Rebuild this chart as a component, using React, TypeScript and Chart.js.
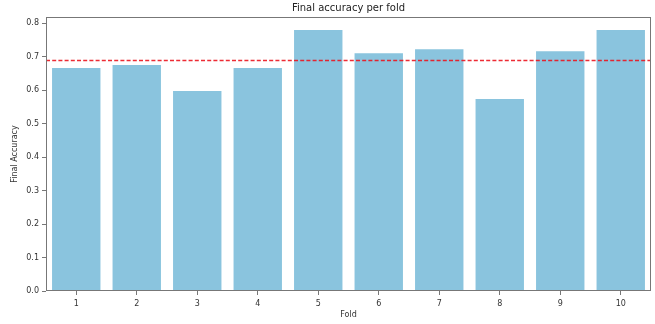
import React, { useEffect, useRef } from "react";
import { Chart, registerables } from "chart.js";

Chart.register(...registerables);

const folds = ["1", "2", "3", "4", "5", "6", "7", "8", "9", "10"];
const accuracy = [0.666, 0.675, 0.597, 0.666, 0.779, 0.71, 0.722, 0.573, 0.716, 0.779];
const meanAccuracy = 0.688;
const yTicks = [0, 0.1, 0.2, 0.3, 0.4, 0.5, 0.6, 0.7, 0.8];
const yMax = 0.818;

const FONT = "'DejaVu Sans', sans-serif";

const framePlugin = {
  id: "frameAndMean",
  afterDatasetsDraw(chart: any) {
    const { ctx, chartArea, scales } = chart;
    const y = scales.y.getPixelForValue(meanAccuracy);
    ctx.save();
    ctx.strokeStyle = "rgba(235,20,30,0.9)";
    ctx.lineWidth = 1.5;
    ctx.setLineDash([4, 2.2]);
    ctx.beginPath();
    ctx.moveTo(chartArea.left, y);
    ctx.lineTo(chartArea.right, y);
    ctx.stroke();
    ctx.setLineDash([]);
    ctx.strokeStyle = "#777";
    ctx.lineWidth = 1;
    ctx.strokeRect(
      Math.round(chartArea.left) + 0.5,
      Math.round(chartArea.top) + 0.5,
      Math.round(chartArea.right - chartArea.left) - 1,
      Math.round(chartArea.bottom - chartArea.top) - 1
    );
    ctx.restore();
  },
};

export default function App() {
  const ref = useRef<HTMLCanvasElement | null>(null);

  useEffect(() => {
    document.body.style.margin = "0";
    const canvas = ref.current;
    if (!canvas) return;
    const chart = new Chart(canvas, {
      type: "bar",
      data: {
        labels: folds,
        datasets: [
          {
            data: accuracy,
            backgroundColor: "#8AC4DE",
            borderWidth: 0,
            categoryPercentage: 0.8,
            barPercentage: 1,
          },
        ],
      },
      options: {
        animation: false,
        responsive: true,
        maintainAspectRatio: false,
        layout: { padding: { left: 0, right: 4, top: 0, bottom: 0 } },
        plugins: {
          legend: { display: false },
          tooltip: { enabled: false },
          title: {
            display: true,
            text: "Final accuracy per fold",
            fullSize: false,
            color: "#222",
            font: { family: FONT, size: 10, weight: "normal" },
            padding: { top: 2, bottom: 3 },
          },
        },
        scales: {
          x: {
            offset: true,
            grid: {
              display: true,
              offset: false,
              drawOnChartArea: false,
              drawTicks: true,
              tickLength: 4,
              color: "#777",
            },
            border: { display: false },
            ticks: {
              color: "#333",
              font: { family: FONT, size: 8 },
              padding: 4,
              maxRotation: 0,
            },
            title: {
              display: true,
              text: "Fold",
              color: "#333",
              font: { family: FONT, size: 8 },
              padding: { top: 0, bottom: 4 },
            },
            afterFit: (scale: any) => {
              scale.height = 33;
            },
          },
          y: {
            min: 0,
            max: yMax,
            grid: {
              display: true,
              drawOnChartArea: false,
              drawTicks: true,
              tickLength: 4,
              color: "#777",
            },
            border: { display: false },
            afterBuildTicks: (scale: any) => {
              scale.ticks = yTicks.map((v) => ({ value: v }));
            },
            ticks: {
              color: "#333",
              font: { family: FONT, size: 8 },
              padding: 3,
              callback: (v: any) => Number(v).toFixed(1),
            },
            title: {
              display: true,
              text: "Final Accuracy",
              color: "#333",
              font: { family: FONT, size: 8 },
              padding: { top: 10, bottom: 0 },
            },
            afterFit: (scale: any) => {
              scale.width = 46;
            },
          },
        },
      },
      plugins: [framePlugin],
    });
    return () => chart.destroy();
  }, []);

  return (
    <div style={{ width: 655, height: 324, position: "relative" }}>
      <canvas ref={ref} />
    </div>
  );
}
